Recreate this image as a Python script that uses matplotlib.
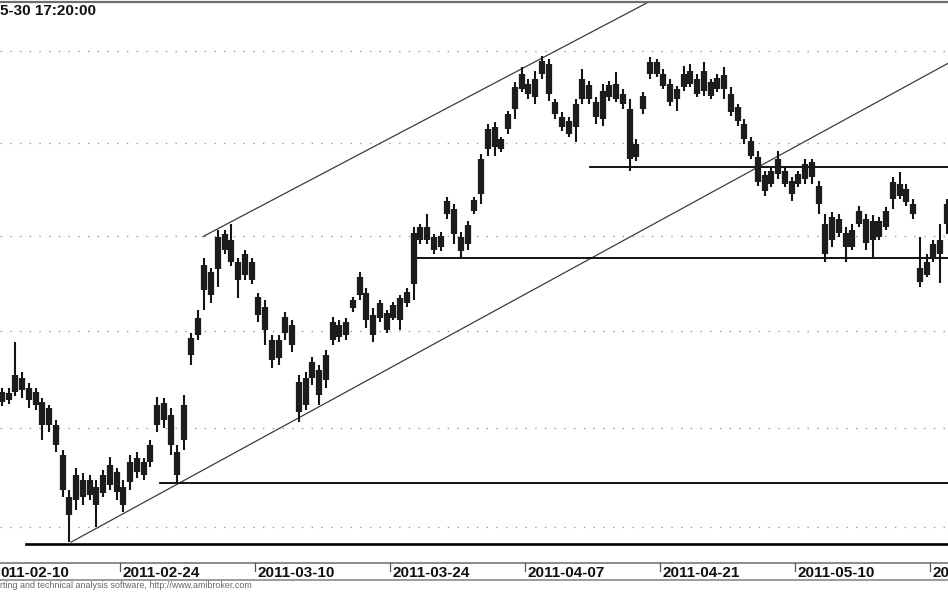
"""
plot.py
=======
Intraday price chart (AmiBroker style), Feb-May 2011, with a trend channel
and a few horizontal support/resistance lines. Saves out.png.
"""

import matplotlib
matplotlib.use("Agg")
import matplotlib.pyplot as plt  # noqa: E402
from matplotlib import transforms  # noqa: E402
from matplotlib.ticker import NullLocator  # noqa: E402

plt.rcParams["font.family"] = ["Liberation Sans", "DejaVu Sans"]

# ---- data: two bars per session ---------------------------------------- #
bar_high = [
    2720.8, 2720.8, 2744.5, 2729.0, 2723.4, 2720.8, 2715.6, 2712.0, 2704.3, 2689.0,
    2668.7, 2679.9, 2677.3, 2676.3, 2673.8, 2678.9, 2685.4, 2679.9, 2673.8, 2686.5,
    2687.9, 2684.9, 2694.0, 2716.1, 2715.6, 2710.5, 2691.5, 2717.2, 2749.2, 2761.3,
    2788.7, 2783.4, 2803.5, 2803.5, 2806.2, 2788.7, 2792.9, 2788.7, 2770.2, 2766.5,
    2748.1, 2748.1, 2760.2, 2756.0, 2727.5, 2729.0, 2736.8, 2732.6, 2740.4, 2757.6,
    2756.0, 2757.0, 2768.1, 2781.3, 2772.9, 2762.3, 2766.5, 2761.3, 2765.5, 2769.2,
    2772.9, 2805.1, 2806.2, 2811.6, 2800.9, 2802.4, 2820.7, 2816.9, 2802.4, 2807.8,
    2820.7, 2843.8, 2859.9, 2861.0, 2852.9, 2867.0, 2882.8, 2891.0, 2884.5, 2888.8,
    2897.0, 2895.4, 2873.6, 2866.5, 2863.8, 2873.6, 2889.9, 2883.4, 2874.6, 2881.7,
    2883.4, 2888.3, 2879.0, 2873.6, 2851.8, 2877.4, 2896.4, 2895.4, 2889.9, 2884.5,
    2880.6, 2891.5, 2892.6, 2887.2, 2893.7, 2884.5, 2887.2, 2891.0, 2880.1, 2870.8,
    2862.7, 2852.9, 2845.4, 2834.6, 2836.8, 2845.4, 2836.8, 2831.4, 2834.6, 2841.1,
    2841.1, 2829.3, 2811.6, 2812.6, 2811.6, 2804.6, 2806.2, 2815.8, 2811.6, 2811.1,
    2810.0, 2815.3, 2831.4, 2834.1, 2827.7, 2819.6, 2799.8, 2790.3, 2798.2, 2806.2,
    2819.6,
]
body_top = [
    2718.7, 2718.2, 2727.5, 2725.9, 2720.8, 2718.7, 2713.5, 2710.5, 2701.7, 2686.5,
    2665.2, 2676.3, 2673.8, 2673.8, 2670.3, 2676.3, 2681.4, 2677.8, 2670.3, 2682.9,
    2684.9, 2682.9, 2691.5, 2712.0, 2713.0, 2706.8, 2687.9, 2712.0, 2746.6, 2757.0,
    2785.0, 2781.3, 2799.8, 2800.9, 2798.2, 2786.1, 2790.3, 2786.6, 2768.1, 2762.8,
    2745.5, 2745.5, 2757.6, 2753.4, 2723.9, 2725.9, 2734.2, 2730.1, 2737.8, 2754.9,
    2753.4, 2754.9, 2766.5, 2778.7, 2770.2, 2758.6, 2765.0, 2759.7, 2763.9, 2767.6,
    2770.8, 2801.9, 2804.6, 2804.6, 2799.3, 2800.3, 2818.5, 2814.2, 2799.8, 2805.7,
    2819.1, 2841.1, 2857.2, 2858.3, 2851.8, 2865.4, 2880.1, 2887.2, 2881.7, 2884.5,
    2894.3, 2892.6, 2871.9, 2863.8, 2861.6, 2870.8, 2884.5, 2881.2, 2871.9, 2877.9,
    2881.2, 2881.7, 2876.3, 2868.1, 2849.1, 2875.2, 2893.7, 2893.7, 2887.2, 2881.7,
    2879.0, 2887.2, 2888.8, 2884.5, 2888.8, 2882.8, 2885.0, 2886.6, 2876.3, 2869.2,
    2859.9, 2850.8, 2842.2, 2832.5, 2834.6, 2841.1, 2834.6, 2829.3, 2833.0, 2838.4,
    2839.5, 2826.6, 2806.2, 2810.0, 2808.9, 2801.9, 2803.5, 2813.2, 2808.9, 2807.8,
    2807.8, 2813.2, 2828.7, 2827.7, 2825.0, 2816.9, 2783.4, 2786.6, 2795.6, 2798.2,
    2816.9,
]
body_bot = [
    2713.5, 2714.6, 2718.7, 2719.7, 2714.6, 2712.0, 2701.7, 2701.7, 2691.5, 2668.7,
    2656.1, 2663.7, 2665.2, 2666.2, 2661.2, 2667.2, 2671.3, 2667.7, 2661.2, 2672.8,
    2677.8, 2676.3, 2682.9, 2701.7, 2704.3, 2691.5, 2676.3, 2694.0, 2737.8, 2748.1,
    2771.8, 2769.2, 2782.4, 2792.9, 2786.6, 2777.1, 2779.7, 2777.1, 2758.6, 2750.7,
    2735.2, 2736.3, 2749.1, 2743.0, 2708.4, 2712.0, 2725.9, 2717.2, 2724.9, 2745.5,
    2747.1, 2748.1, 2762.3, 2769.2, 2756.0, 2748.1, 2757.0, 2750.7, 2757.0, 2756.0,
    2765.0, 2774.5, 2798.2, 2798.2, 2792.9, 2794.0, 2811.6, 2800.9, 2791.9, 2795.6,
    2813.2, 2822.3, 2846.5, 2847.5, 2846.5, 2857.2, 2868.1, 2879.0, 2876.3, 2874.6,
    2887.2, 2876.3, 2865.4, 2858.3, 2854.5, 2858.3, 2873.6, 2873.6, 2863.8, 2862.7,
    2874.6, 2873.6, 2870.8, 2841.1, 2842.2, 2868.1, 2887.2, 2887.2, 2880.6, 2871.9,
    2873.6, 2880.1, 2881.7, 2876.3, 2877.9, 2875.2, 2879.0, 2879.0, 2866.5, 2861.6,
    2851.8, 2842.7, 2828.7, 2823.9, 2827.7, 2833.0, 2827.7, 2822.3, 2827.7, 2830.3,
    2831.4, 2816.9, 2790.3, 2798.2, 2801.9, 2794.0, 2794.5, 2806.2, 2796.6, 2798.2,
    2799.8, 2804.6, 2819.6, 2821.2, 2818.0, 2811.6, 2776.0, 2779.7, 2788.7, 2790.3,
    2806.2,
]
bar_low = [
    2711.5, 2712.5, 2716.6, 2715.6, 2710.5, 2709.4, 2694.0, 2698.1, 2687.9, 2665.2,
    2642.4, 2658.6, 2661.2, 2663.7, 2650.0, 2665.2, 2668.7, 2663.7, 2657.6, 2668.7,
    2674.8, 2673.8, 2680.4, 2698.1, 2700.1, 2686.5, 2671.8, 2689.0, 2732.6, 2745.5,
    2761.3, 2765.0, 2773.4, 2790.3, 2784.0, 2767.6, 2777.1, 2774.5, 2754.9, 2743.0,
    2731.1, 2732.6, 2745.5, 2739.4, 2703.2, 2709.4, 2722.3, 2712.0, 2720.8, 2743.0,
    2744.5, 2745.5, 2760.2, 2766.5, 2751.8, 2744.5, 2754.9, 2749.2, 2756.0, 2750.7,
    2762.8, 2766.5, 2795.6, 2795.6, 2790.3, 2791.9, 2808.9, 2795.6, 2789.2, 2792.9,
    2811.6, 2816.9, 2842.7, 2842.7, 2844.8, 2854.5, 2862.7, 2877.4, 2873.6, 2870.8,
    2884.5, 2872.5, 2862.7, 2856.1, 2852.9, 2850.2, 2870.8, 2870.8, 2859.9, 2858.9,
    2872.5, 2871.9, 2868.1, 2834.6, 2840.0, 2865.4, 2884.5, 2885.5, 2879.0, 2869.7,
    2867.0, 2877.9, 2880.1, 2874.6, 2875.2, 2873.6, 2877.4, 2873.6, 2864.3, 2858.9,
    2849.1, 2841.1, 2826.6, 2821.2, 2826.1, 2830.3, 2826.1, 2818.5, 2826.1, 2827.7,
    2827.7, 2811.6, 2786.6, 2794.5, 2799.8, 2786.1, 2792.9, 2804.6, 2792.9, 2788.7,
    2798.2, 2803.5, 2814.2, 2819.6, 2815.8, 2808.9, 2773.4, 2778.2, 2786.6, 2775.5,
    2800.9,
]

BARS_PER_DAY = 2
# date strip as visible in the (cropped) chart; first and last labels are cut
tick_labels = ["011-02-10", "2011-02-24", "2011-03-10", "2011-03-24",
               "2011-04-07", "2011-04-21", "2011-05-10", "20"]
tick_days = [-1, 9, 19, 29, 39, 49, 59, 69]

grid_levels = [2650, 2700, 2750, 2800, 2850, 2900]

# hand-drawn studies (bar, price)
channel_upper_x = [29.8, 103.4]
channel_upper_y = [2799.8, 2941.9]
channel_lower_x = [10.24, 140.2]
channel_lower_y = [2642.4, 2893.2]
level_prices = [2672.3, 2788.6, 2837.0]
level_starts = [23.4, 60.9, 87.1]
base_price = 2641.4
base_start = 3.6

# ---- figure ------------------------------------------------------------ #
W, H = 948, 593
fig = plt.figure(figsize=(W / 100, H / 100), dpi=100)
fig.patch.set_facecolor("white")

top_px, bot_px, strip_px = 1.5, 563, 580
ax = fig.add_axes([0, 1 - bot_px / H, 1, (bot_px - top_px) / H])
ax.set_yscale("log")
ax.set_ylim(2632.0, 2927.2)
xlim = (-0.278, 140.17)
ax.set_xlim(*xlim)
ax.yaxis.set_major_locator(NullLocator())
ax.yaxis.set_minor_locator(NullLocator())
ax.xaxis.set_major_locator(NullLocator())
ax.xaxis.set_minor_locator(NullLocator())
for s in ("left", "right"):
    ax.spines[s].set_visible(False)
ax.spines["top"].set_color("#6e6e6e")
ax.spines["top"].set_linewidth(1.6)
ax.spines["bottom"].set_color("#8a8a8a")
ax.spines["bottom"].set_linewidth(1.4)

for g in grid_levels:
    ax.axhline(g, color="#9a9a9a", lw=1.0, ls=(0, (1, 6)), zorder=1)

xs = list(range(len(bar_high)))
ax.vlines(xs, bar_low, bar_high, color="#141414", lw=1.5, zorder=3)
ax.vlines(xs, body_bot, body_top, color="#1c1c1c", lw=4.5, zorder=3)

# studies
ax.plot(channel_upper_x, channel_upper_y, color="#3c3c3c", lw=0.9, zorder=2)
ax.plot(channel_lower_x, channel_lower_y, color="#3c3c3c", lw=0.9, zorder=2)
for p, s in zip(level_prices, level_starts):
    ax.plot([s, xlim[1] + 1], [p, p], color="black", lw=1.3, zorder=2)
ax.plot([base_start, xlim[1] + 1], [base_price, base_price],
        color="black", lw=1.9, zorder=2)

# ---- date strip -------------------------------------------------------- #
ax2 = fig.add_axes([0, 1 - strip_px / H, 1, (strip_px - bot_px) / H])
ax2.set_xlim(*xlim)
ax2.set_ylim(0, 1)
ax2.xaxis.set_major_locator(NullLocator())
ax2.yaxis.set_major_locator(NullLocator())
for s in ("left", "right", "top"):
    ax2.spines[s].set_visible(False)
ax2.spines["bottom"].set_color("#8a8a8a")
ax2.spines["bottom"].set_linewidth(1.2)
ax2.patch.set_alpha(0)

off = transforms.offset_copy(ax2.transData, fig=fig, x=2.5, y=0, units="dots")
for lab, d in zip(tick_labels, tick_days):
    tx = BARS_PER_DAY * d - 0.5
    if tx < xlim[0]:
        # tick itself is off the left edge: the label shows from the edge
        ax2.text(0.0, 0.42, lab, transform=ax2.transAxes, ha="left",
                 va="center", fontsize=11, fontweight="bold", color="#111111")
        continue
    ax2.plot([tx, tx], [1.0, 0.55], color="#555555", lw=0.9, clip_on=False)
    ax2.text(tx, 0.42, lab, transform=off, ha="left", va="center",
             fontsize=11, fontweight="bold", color="#111111", clip_on=False)

# ---- header / footer ------------------------------------------------------ #
fig.text(0.0, 1 - 11 / H, "5-30 17:20:00", fontsize=11, fontweight="bold",
         ha="left", va="center", color="#111111")
fig.text(0.0, 1 - 586 / H,
         "rting and technical analysis software, http://www.amibroker.com",
         fontsize=6.4, color="#666666", ha="left", va="center")

fig.savefig("out.png", dpi=100)
